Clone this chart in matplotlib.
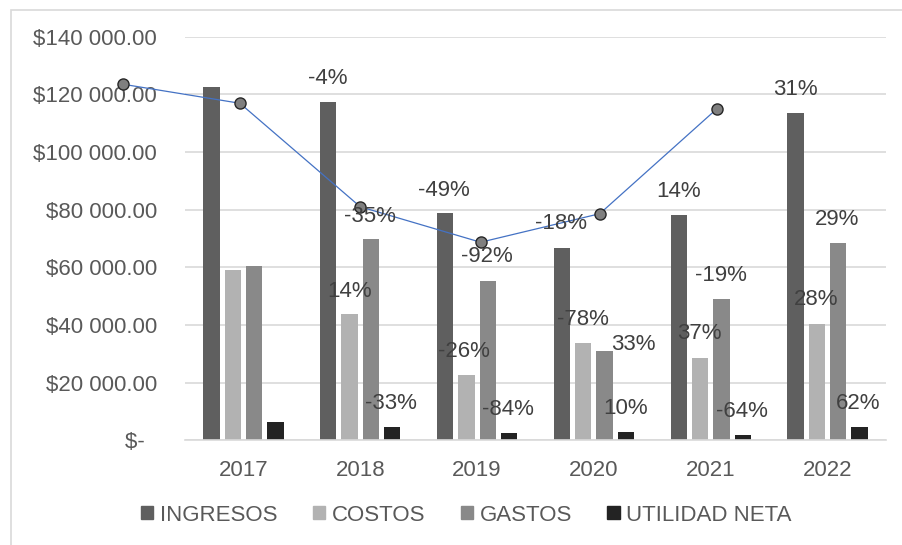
import matplotlib.pyplot as plt
import numpy as np
from matplotlib.patches import Rectangle, Patch

plt.rcParams['font.family'] = ['Liberation Sans', 'DejaVu Sans']

years = ['2017', '2018', '2019', '2020', '2021', '2022']
ingresos = [122600, 117400, 78700, 66800, 78100, 113500]
costos = [59100, 43700, 22650, 33900, 28500, 40300]
gastos = [60500, 69900, 55300, 31000, 48900, 68300]
utilidad = [6200, 4700, 2400, 2800, 1700, 4600]

series_names = ['INGRESOS', 'COSTOS', 'GASTOS', 'UTILIDAD NETA']
series_colors = ['#5f5f5f', '#b2b2b2', '#898989', '#232323']

# linea (posiciones en unidades de categoria, desplazada como en el original)
line_x = [-1.03, -0.03, 1.0, 2.03, 3.05, 4.05]
line_y = [123500, 116900, 81000, 68700, 78600, 114900]

# etiquetas de porcentaje (texto, x en categorias, y en valor)
pct_text = ['-4%', '-49%', '-35%', '-92%', '-18%', '14%', '31%', '29%',
            '-19%', '28%', '14%', '-26%', '-78%', '33%', '37%',
            '-33%', '-84%', '10%', '-64%', '62%']
pct_x = [0.723, 1.718, 1.085, 2.084, 2.720, 3.724, 4.723, 5.080,
         4.087, 4.901, 0.905, 1.890, 2.906, 3.339, 3.904,
         1.262, 2.260, 3.268, 4.267, 5.265]
pct_y = [125600, 86800, 77600, 63700, 75300, 86200, 121700, 76700,
         57300, 48700, 51500, 30700, 42000, 33300, 36900,
         12800, 10800, 11100, 9900, 12800]

yticks = [0, 20000, 40000, 60000, 80000, 100000, 120000, 140000]
ytick_labels = ['$-  ', '$20 000.00', '$40 000.00', '$60 000.00', '$80 000.00',
                '$100 000.00', '$120 000.00', '$140 000.00']

fig = plt.figure(figsize=(9.02, 5.45), dpi=100)
ax = fig.add_axes([0.2051, 0.1921, 0.7772, 0.7406])

# borde del grafico
fig.patches.append(Rectangle((11 / 902, -0.1), 1.2, 1 - 10 / 545 + 0.1,
                             transform=fig.transFigure, fill=False,
                             edgecolor='#d9d9d9', lw=1.2))

x = np.arange(len(years))
w = 0.14
step = 0.1826
for i, vals in enumerate([ingresos, costos, gastos, utilidad]):
    ax.bar(x + (i - 1.5) * step, vals, width=w, color=series_colors[i],
           zorder=2, label=series_names[i])

# grilla
ax.set_ylim(0, 140000)
ax.set_xlim(-0.5, 5.5)
ax.set_yticks(yticks)
ax.set_yticklabels(ytick_labels)
ax.set_xticks(x)
ax.set_xticklabels(years)
ax.grid(axis='y', color='#d9d9d9', lw=1.2, zorder=0)
for s in ['top', 'right', 'left']:
    ax.spines[s].set_visible(False)
ax.spines['bottom'].set_color('#d9d9d9')
ax.spines['bottom'].set_linewidth(1.2)
ax.tick_params(axis='both', length=0, labelsize=16, colors='#595959')
ax.tick_params(axis='y', pad=20)
ax.tick_params(axis='x', pad=14)

ax.plot(line_x, line_y, color='#4472c4', lw=0.9, marker='o', ms=8,
        mfc='#7f7f7f', mec='#262626', mew=1.0, zorder=4, clip_on=False)

for t, px, py in zip(pct_text, pct_x, pct_y):
    ax.text(px, py, t, ha='center', va='center', fontsize=16,
            color='#404040', zorder=5)

handles = [Patch(color=c) for c in series_colors]
fig.legend(handles, series_names, loc='center', bbox_to_anchor=(0.517, 0.055),
           ncol=4, frameon=False, fontsize=16, labelcolor='#595959',
           handlelength=0.55, handleheight=0.55, handletextpad=0.3,
           columnspacing=1.6)

fig.savefig('out.png', dpi=100)
